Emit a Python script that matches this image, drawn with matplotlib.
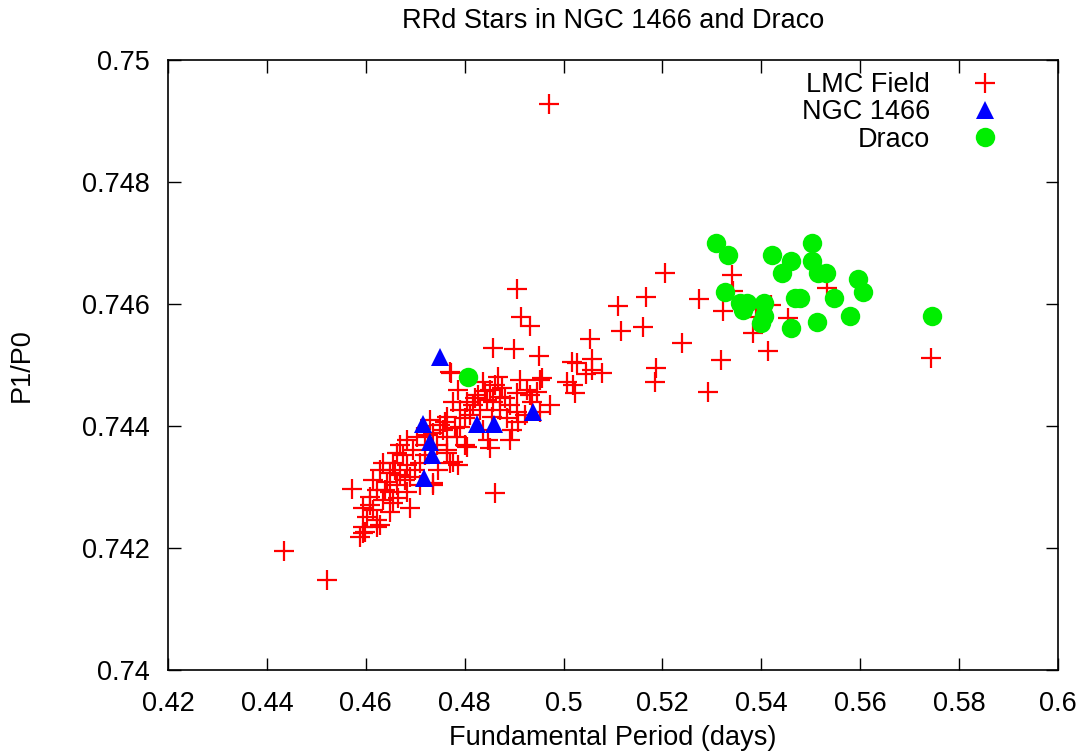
import matplotlib
matplotlib.use("Agg")
import matplotlib.pyplot as plt

plt.rcParams['font.family'] = ['Liberation Sans', 'DejaVu Sans']

# LMC field RRd stars (fundamental period, P1/P0)
lmc_p0 = [0.4970, 0.4435, 0.4521, 0.4572, 0.4861, 0.4906, 0.4914, 0.4932, 0.4857, 0.4900,
          0.4950, 0.5053, 0.5017, 0.5027, 0.5057, 0.5057, 0.5078, 0.5045, 0.5019, 0.5023,
          0.4772, 0.4952, 0.4972,
          0.5205, 0.5166, 0.5110, 0.5274, 0.5340, 0.5322, 0.5116, 0.5160, 0.5239, 0.5187,
          0.5185, 0.5292, 0.5318, 0.5383, 0.5413, 0.5454, 0.5419, 0.5532, 0.5342, 0.5389,
          0.5743,
          0.4770, 0.4867, 0.4912, 0.4956, 0.4837, 0.5007, 0.4786, 0.4851, 0.4926, 0.4946,
          0.4871, 0.4906, 0.4805, 0.4817, 0.4845, 0.4857, 0.4892, 0.4936, 0.4790, 0.4831,
          0.4871, 0.4906, 0.4952, 0.4764, 0.4801, 0.4855, 0.4885, 0.4908, 0.4790, 0.4837,
          0.4896, 0.4756, 0.4784, 0.4847, 0.4892, 0.4801, 0.4764, 0.4851, 0.4770, 0.4786,
          0.4805,
          0.4750, 0.4764, 0.4736, 0.4703, 0.4683, 0.4669, 0.4695, 0.4663, 0.4764, 0.4776,
          0.4635, 0.4655, 0.4683, 0.4710, 0.4629, 0.4649, 0.4669, 0.4689, 0.4615, 0.4643,
          0.4663, 0.4736, 0.4623, 0.4649, 0.4683, 0.4608, 0.4635, 0.4655, 0.4689, 0.4594,
          0.4615, 0.4649, 0.4602, 0.4623, 0.4594, 0.4623, 0.4594, 0.4588, 0.4736, 0.4629,
          0.4598, 0.4760, 0.4780, 0.4730, 0.4720, 0.4746,
          0.4841, 0.4861, 0.4827, 0.4875, 0.4811, 0.4821, 0.4776, 0.4881, 0.4922, 0.4932,
          0.4675, 0.4720, 0.4699, 0.4639, 0.4665, 0.4608, 0.4710, 0.4744, 0.4726, 0.4659,
          0.4679]
lmc_ratio = [0.74928, 0.74195, 0.74148, 0.74297, 0.74290, 0.74625, 0.74579, 0.74564, 0.74528, 0.74526,
             0.74515, 0.74543, 0.74505, 0.74503, 0.74510, 0.74492, 0.74487, 0.74485, 0.74467, 0.74454,
             0.74487, 0.74475, 0.74434,
             0.74651, 0.74611, 0.74597, 0.74608, 0.74647, 0.74588, 0.74556, 0.74562, 0.74536, 0.74495,
             0.74472, 0.74456, 0.74508, 0.74552, 0.74523, 0.74577, 0.74598, 0.74626, 0.74621, 0.74579,
             0.74511,
             0.74488, 0.74480, 0.74475, 0.74479, 0.74472, 0.74472, 0.74459, 0.74459, 0.74459, 0.74456,
             0.74447, 0.74454, 0.74439, 0.74434, 0.74443, 0.74439, 0.74434, 0.74439, 0.74426, 0.74426,
             0.74426, 0.74423, 0.74423, 0.74415, 0.74413, 0.74415, 0.74413, 0.74406, 0.74398, 0.74393,
             0.74393, 0.74393, 0.74382, 0.74377, 0.74377, 0.74369, 0.74361, 0.74364, 0.74339, 0.74336,
             0.74366,
             0.74402, 0.74382, 0.74388, 0.74382, 0.74377, 0.74369, 0.74361, 0.74356, 0.74356, 0.74341,
             0.74339, 0.74339, 0.74336, 0.74339, 0.74328, 0.74323, 0.74320, 0.74316, 0.74311, 0.74308,
             0.74303, 0.74303, 0.74295, 0.74292, 0.74292, 0.74284, 0.74279, 0.74274, 0.74266, 0.74266,
             0.74262, 0.74259, 0.74251, 0.74246, 0.74234, 0.74234, 0.74225, 0.74218, 0.74306, 0.74238,
             0.74226, 0.74406, 0.74397, 0.74410, 0.74369, 0.74328,
             0.74457, 0.74467, 0.74451, 0.74462, 0.74418, 0.74446, 0.74439, 0.74446, 0.74418, 0.74451,
             0.74352, 0.74352, 0.74328, 0.74295, 0.74282, 0.74271, 0.74303, 0.74369, 0.74385, 0.74328,
             0.74311]

# NGC 1466
ngc_p0 = [0.4750, 0.4716, 0.4730, 0.4734, 0.4718, 0.4825, 0.4859, 0.4938]
ngc_ratio = [0.74513, 0.74403, 0.74374, 0.74352, 0.74315, 0.74403, 0.74403, 0.74423]

# Draco
draco_p0 = [0.5308, 0.5333, 0.5422, 0.5502, 0.5460, 0.5442, 0.5502, 0.5515, 0.5531, 0.5596,
            0.5606, 0.5327, 0.5357, 0.5371, 0.5363, 0.5405, 0.5405, 0.5399, 0.5468, 0.5478,
            0.5547, 0.5460, 0.5513, 0.5579, 0.5745, 0.4807]
draco_ratio = [0.74700, 0.74680, 0.74680, 0.74700, 0.74670, 0.74651, 0.74670, 0.74651, 0.74651, 0.74641,
               0.74620, 0.74620, 0.74602, 0.74602, 0.74590, 0.74602, 0.74580, 0.74569, 0.74610, 0.74610,
               0.74610, 0.74561, 0.74570, 0.74580, 0.74580, 0.74480]

xticks = [0.42, 0.44, 0.46, 0.48, 0.5, 0.52, 0.54, 0.56, 0.58, 0.6]
xticklabels = ['0.42', '0.44', '0.46', '0.48', '0.5', '0.52', '0.54', '0.56', '0.58', '0.6']
yticks = [0.74, 0.742, 0.744, 0.746, 0.748, 0.75]
yticklabels = ['0.74', '0.742', '0.744', '0.746', '0.748', '0.75']

fs = 19.5

fig = plt.figure(figsize=(10.86, 7.54), dpi=100)
ax = fig.add_axes([0.1547, 0.1114, 0.8195, 0.809])

ax.plot(lmc_p0, lmc_ratio, '+', color='#ff0000', markersize=14, markeredgewidth=1.6,
        linestyle='none', label='LMC Field')
ax.plot(ngc_p0, ngc_ratio, '^', color='#0000ff', markersize=13, markeredgewidth=0,
        linestyle='none', label='NGC 1466')
ax.plot(draco_p0, draco_ratio, 'o', color='#00ee00', markersize=14, markeredgewidth=0,
        linestyle='none', label='Draco')

ax.set_xlim(0.42, 0.6)
ax.set_ylim(0.74, 0.75)
ax.set_xticks(xticks)
ax.set_xticklabels(xticklabels)
ax.set_yticks(yticks)
ax.set_yticklabels(yticklabels)
ax.tick_params(direction='in', length=9, width=1, top=True, right=True, labelsize=fs)
ax.tick_params(axis='x', pad=15)
ax.tick_params(axis='y', pad=13)
for s in ax.spines.values():
    s.set_linewidth(1.2)

ax.set_title('RRd Stars in NGC 1466 and Draco', fontsize=fs, pad=23)
ax.set_xlabel('Fundamental Period (days)', fontsize=fs, labelpad=6)
ax.set_ylabel('P1/P0', fontsize=fs, labelpad=34)

ax.legend(loc='upper right', bbox_to_anchor=(0.947, 0.989), frameon=False, markerfirst=False,
          alignment='right', fontsize=fs, handlelength=1.5, handletextpad=1.27, labelspacing=0.05,
          borderpad=0.2, borderaxespad=0.0)

fig.savefig('out.png', dpi=100)
